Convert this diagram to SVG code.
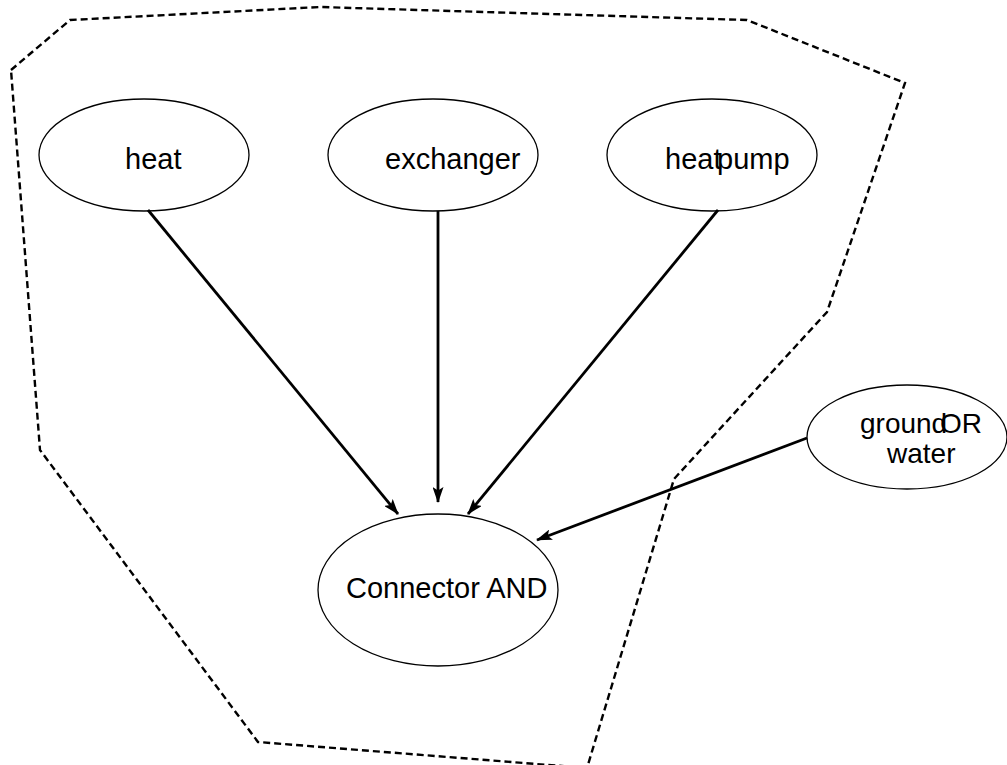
<svg xmlns="http://www.w3.org/2000/svg" width="1007" height="765" viewBox="0 0 1007 765">
<style>
.node ellipse{fill:#fff;stroke:#000;stroke-width:1.3}
.node text{font-family:"Liberation Sans",Arial,sans-serif;font-size:29px;fill:#000}
#n-groundwater text{font-size:28px}
.conn line{stroke:#000;stroke-width:2.8;marker-end:url(#ah)}
.boundary{fill:none;stroke:#000;stroke-width:2.4;stroke-dasharray:7 4}
</style>
<defs>
<marker id="ah" viewBox="0 0 16 11" refX="15" refY="5.5" markerWidth="16" markerHeight="11" markerUnits="userSpaceOnUse" orient="auto">
<path d="M0,0 L16,5.5 L0,11 L3.5,5.5 Z" fill="#000"/>
</marker>
</defs>
<rect width="1007" height="765" fill="#fff"/>
<path class="boundary" d="M11,70 L70,20 L320,7 L747,20 L905,83 L827,312 L674,479 L587,768 L258,742 L40,450 Z"/>
<g id="n-heat" class="node"><ellipse cx="144" cy="155" rx="105" ry="56"/><text x="125" y="169">heat</text></g>
<g id="n-exchanger" class="node"><ellipse cx="433" cy="155" rx="105" ry="56"/><text x="385" y="169">exchanger</text></g>
<g id="n-heatpump" class="node"><ellipse cx="712" cy="155" rx="105" ry="56"/><text x="665" y="169">heat</text><text x="717" y="169">pump</text></g>
<g id="n-groundwater" class="node"><ellipse cx="907" cy="437" rx="100" ry="52"/><text x="860" y="433">ground</text><text x="940" y="433">OR</text><text x="887" y="463">water</text></g>
<g id="n-connector" class="node"><ellipse cx="438" cy="590" rx="120" ry="76"/><text x="346" y="598">Connector AND</text></g>
<g id="connectors" class="conn">
<line x1="148" y1="210" x2="398" y2="514"/>
<line x1="438" y1="211" x2="438" y2="502"/>
<line x1="718" y1="210" x2="468" y2="514"/>
<line x1="807" y1="438" x2="537" y2="540"/>
</g>
</svg>
